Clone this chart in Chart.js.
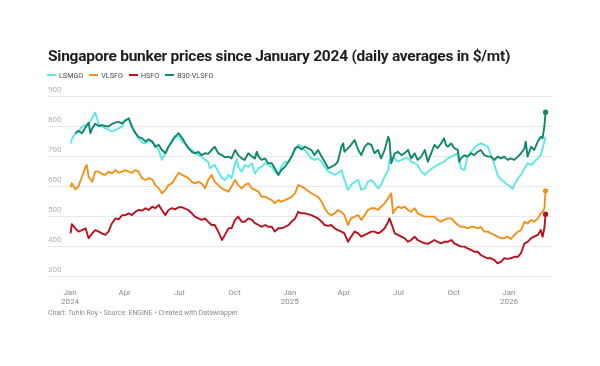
<!DOCTYPE html>
<html>
<head>
<meta charset="utf-8">
<script src="https://cdn.jsdelivr.net/npm/chart.js@4.4.1/dist/chart.umd.min.js"></script>
<style>
  html, body { margin: 0; padding: 0; background: #ffffff; }
  body { width: 600px; height: 366px; position: relative; overflow: hidden; font-family: Roboto, "Noto Sans", sans-serif; }
  #title { position: absolute; left: 48px; top: 48px; font-size: 15.5px; line-height: 16px; letter-spacing: -0.25px; font-weight: 700; color: #1d1d1d; white-space: nowrap; }
  #legend { position: absolute; left: 47px; top: 70px; height: 10px; display: flex; align-items: center; font-size: 7.2px; color: #4a4a4a; white-space: nowrap; }
  #legend .item { display: flex; align-items: center; margin-right: 6px; }
  #legend .sw { width: 9px; height: 2px; margin-right: 3px; }
  #footer { position: absolute; left: 48px; top: 309px; font-size: 6.9px; line-height: 9px; color: #8c8c8c; white-space: nowrap; }
  canvas { position: absolute; left: 0; top: 0; }
</style>
</head>
<body>
<canvas id="c" width="600" height="366"></canvas>
<div id="title">Singapore bunker prices since January 2024 (daily averages in $/mt)</div>
<div id="legend"></div>
<div id="footer">Chart: Tuhin Roy • Source: ENGINE • Created with Datawrapper</div>
<script>
// Day offsets are counted from 1 January 2024 (day 0).
const seriesNames = ['LSMGO', 'VLSFO', 'HSFO', 'B30-VLSFO'];
const seriesColors = ['#5ce8e4', '#f39019', '#b8121f', '#10876a'];

const tickDays = [0, 91, 182, 274, 366, 456, 547, 639, 731];
const tickLabels = [['Jan', '2024'], 'Apr', 'Jul', 'Oct', ['Jan', '2025'], 'Apr', 'Jul', 'Oct', ['Jan', '2026']];
const yTicks = [300, 400, 500, 600, 700, 800, 900];

const lsmgoDays = [1,3,9,14,20,26,31,37,42,45,48,53,59,64,70,76,81,87,92,98,103,109,114,120,126,131,137,142,148,153,159,164,170,175,181,187,
197,203,208,214,219,225,230,233,236,241,247,253,258,264,269,275,278,280,286,291,297,303,308,314,319,325,330,336,341,347,352,358,364,369,375,380,386,391,
402,407,413,419,424,430,435,441,446,452,457,463,468,474,480,485,491,496,502,507,513,518,524,530,532,535,541,546,552,557,563,568,574,579,585,591,596,
607,612,618,623,629,635,640,646,651,657,662,668,673,679,684,690,696,701,707,712,718,723,729,734,737,740,746,751,757,762,768,773,779,784,790,792];
const lsmgoValues = [742,756,776,781,798,803,807,826,845,826,803,800,792,789,781,787,792,798,820,822,798,776,759,745,742,753,745,737,720,687,709,731,753,767,765,748,
731,720,711,703,698,687,681,659,664,670,648,626,620,637,626,676,689,664,648,670,664,676,642,659,664,676,670,664,648,637,664,681,681,698,720,737,731,720,
692,687,692,681,664,648,644,637,642,653,620,587,603,614,620,587,592,614,620,609,592,603,631,653,687,698,692,681,687,692,692,681,676,670,648,637,648,
664,670,676,681,692,698,703,709,659,653,698,714,726,737,742,737,731,703,670,637,620,614,603,598,590,603,626,637,659,676,670,681,692,703,748,764];

const vlsfoDays = [1,3,9,14,20,26,28,31,37,42,48,53,59,64,70,76,81,87,92,98,103,109,114,120,126,131,137,142,148,153,159,164,170,175,181,187,
197,203,208,214,219,225,230,236,241,247,253,258,264,269,275,280,286,291,297,303,308,314,319,325,330,336,341,347,352,358,364,369,375,380,386,391,
402,407,413,419,424,430,435,441,446,452,457,463,468,474,480,485,491,496,502,507,513,518,524,530,535,538,541,546,552,557,563,568,574,579,585,591,596,
607,612,618,623,629,635,640,646,651,657,662,668,673,679,684,690,696,701,707,712,718,723,729,734,740,746,751,757,762,768,773,779,784,787,790,792];
const vlsfoValues = [596,609,589,598,631,664,670,631,614,648,648,640,637,648,642,653,644,648,653,648,644,653,648,626,620,626,622,603,592,576,587,603,609,626,644,637,
626,614,609,614,609,592,620,637,614,603,592,587,581,598,620,603,592,603,609,592,587,581,564,564,559,553,542,553,548,553,559,564,576,603,598,592,
576,570,564,548,526,509,503,509,520,514,503,470,492,498,503,487,503,520,526,526,520,531,542,559,576,509,520,531,526,531,520,514,526,509,503,498,498,
498,487,481,487,492,492,481,470,464,464,459,464,464,459,464,448,448,442,437,431,426,426,431,423,437,448,453,481,475,487,481,492,509,514,525,584];

const hsfoDays = [1,3,9,14,20,26,31,37,42,48,53,59,64,70,76,81,87,92,98,103,109,114,120,126,131,137,142,148,153,159,164,170,175,181,187,
197,203,208,214,219,225,230,236,241,247,253,258,264,269,275,280,286,291,297,303,308,314,319,325,330,336,341,347,352,358,364,369,375,380,386,391,
402,407,413,419,424,430,435,441,446,452,457,463,468,474,480,485,491,496,502,507,513,518,524,530,532,535,541,546,552,557,563,568,574,579,585,591,596,
607,612,618,623,629,635,640,646,651,657,662,668,673,679,684,690,696,701,707,712,718,723,729,734,740,746,751,757,762,768,773,779,784,787,790,792];
const hsfoValues = [442,473,459,448,453,459,426,442,453,448,442,437,448,476,492,489,503,503,509,503,514,520,518,526,520,531,526,537,520,503,520,526,522,529,529,
520,509,498,492,487,492,481,470,470,448,420,437,459,459,487,498,481,481,492,487,476,470,464,470,464,464,448,459,459,464,470,481,492,514,509,509,
503,498,492,481,470,467,470,459,453,448,442,414,431,448,442,431,437,442,448,448,442,448,459,481,492,476,442,437,431,426,414,420,431,420,414,409,407,
420,414,409,414,414,420,409,403,398,398,392,387,381,381,370,364,359,359,353,342,348,359,357,359,364,364,376,409,414,426,431,437,453,431,459,506];

const b30Days = [9,14,20,26,31,34,37,42,48,53,59,64,70,76,81,87,92,98,103,109,114,120,126,131,137,142,148,153,159,164,170,175,181,187,
197,203,208,214,219,225,230,236,241,247,253,258,264,269,275,280,286,291,297,303,308,311,314,319,325,330,336,341,347,352,358,364,369,375,380,386,391,
402,407,413,419,424,430,435,441,446,452,455,457,463,468,474,480,485,491,496,502,507,513,518,524,530,532,535,541,546,552,557,563,568,574,579,585,591,596,
607,612,618,623,626,629,635,640,646,648,651,657,662,668,673,679,684,690,696,701,707,712,718,723,729,734,740,746,751,757,759,762,768,773,779,784,787,790,792];
const b30Values = [776,784,776,796,811,776,792,807,800,803,800,798,807,811,814,809,818,826,798,776,764,759,748,756,748,731,737,720,709,731,748,764,776,759,
726,714,709,714,703,709,707,720,731,709,703,696,698,692,720,703,692,687,709,698,692,714,698,687,692,676,676,659,637,653,664,681,698,726,731,722,731,
720,703,720,698,681,659,664,670,681,731,742,714,726,737,753,720,703,731,742,737,709,720,692,720,764,753,676,709,714,703,709,720,692,709,687,698,720,681,
737,726,742,759,737,731,742,726,720,681,692,703,698,709,703,714,720,703,698,698,687,698,692,698,687,692,687,698,709,726,748,698,731,720,748,764,759,798,846];

const allDays = [lsmgoDays, vlsfoDays, hsfoDays, b30Days];
const allValues = [lsmgoValues, vlsfoValues, hsfoValues, b30Values];
const endDots = [false, true, true, true];

// HTML legend
const legendEl = document.getElementById('legend');
seriesNames.forEach((name, i) => {
  const item = document.createElement('div');
  item.className = 'item';
  const sw = document.createElement('span');
  sw.className = 'sw';
  sw.style.background = seriesColors[i];
  const tx = document.createElement('span');
  tx.textContent = name;
  item.appendChild(sw);
  item.appendChild(tx);
  legendEl.appendChild(item);
});

const datasets = seriesNames.map((name, i) => {
  const pts = allDays[i].map((d, k) => ({ x: d, y: allValues[i][k] }));
  const last = pts.length - 1;
  return {
    label: name,
    data: pts,
    borderColor: seriesColors[i],
    backgroundColor: seriesColors[i],
    borderWidth: 1.9,
    tension: 0,
    borderJoinStyle: 'round',
    pointRadius: ctx => (endDots[i] && ctx.dataIndex === last) ? 2.6 : 0,
    pointHoverRadius: 0,
    pointBorderWidth: 0,
    pointBackgroundColor: seriesColors[i],
    order: name === 'B30-VLSFO' ? -1 : i
  };
});

new Chart(document.getElementById('c'), {
  type: 'line',
  data: { datasets },
  options: {
    responsive: false,
    animation: false,
    events: [],
    layout: { padding: { left: 48, right: 48, top: 96, bottom: 0 } },
    plugins: { legend: { display: false }, tooltip: { enabled: false } },
    scales: {
      x: {
        type: 'linear',
        min: -36.6,
        max: 802.7,
        grid: { display: false },
        border: { display: false },
        afterBuildTicks: s => { s.ticks = tickDays.map(v => ({ value: v })); },
        afterFit: s => { s.height = 90; },
        ticks: {
          autoSkip: false,
          maxRotation: 0,
          padding: 4,
          color: '#8a8a8a',
          font: { family: 'Roboto', size: 8, lineHeight: 1.15 },
          callback: (v) => { const k = tickDays.indexOf(v); return k >= 0 ? tickLabels[k] : ''; }
        }
      },
      y: {
        min: 300,
        max: 900,
        afterFit: s => { s.width = 0; },
        afterBuildTicks: s => { s.ticks = yTicks.map(v => ({ value: v })); },
        grid: { color: '#e9e9e9', lineWidth: 1, drawTicks: false },
        border: { display: false },
        ticks: {
          mirror: true,
          padding: 0,
          labelOffset: -6,
          color: '#b3b3b3',
          font: { family: 'Roboto', size: 8 }
        }
      }
    }
  }
});
</script>
</body>
</html>
